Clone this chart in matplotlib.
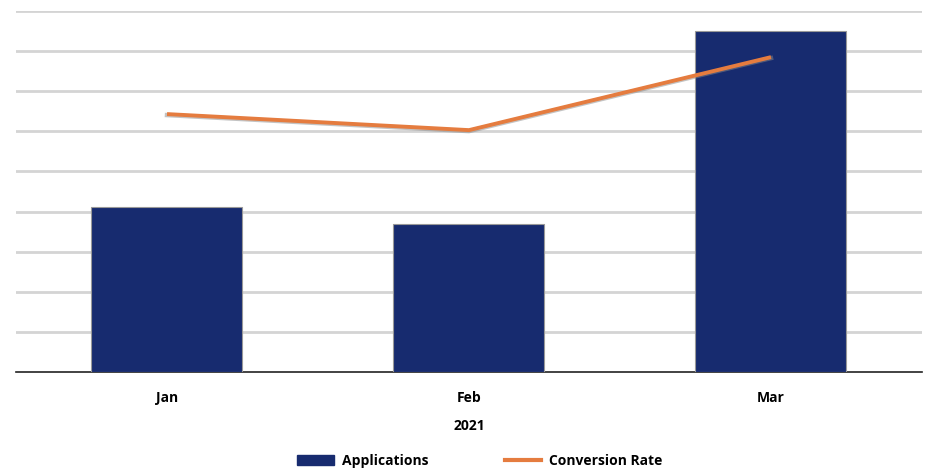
import matplotlib.pyplot as plt
from matplotlib.patches import Patch
from matplotlib.lines import Line2D
from matplotlib.transforms import ScaledTranslation

months = ["Jan", "Feb", "Mar"]
applications = [4.11, 3.69, 8.5]
conversion_rate = [6.43, 6.03, 7.85]
year_label = "2021"

bar_color = "#172b6f"
line_color = "#e57c3f"

plt.rcParams['font.family'] = ['Open Sans', 'DejaVu Sans']

fig = plt.figure(figsize=(9.29, 4.68), dpi=100)
ax = fig.add_axes([16 / 929, (468 - 372) / 468, (922 - 16) / 929, (372 - 11) / 468])

x = list(range(len(months)))
ax.bar(x, applications, width=0.5, color=bar_color, edgecolor="#999999", linewidth=0.8, zorder=3)
# shadow under the line
ax.plot(x, conversion_rate, color="#888888", linewidth=3.2, zorder=4, alpha=0.5,
        transform=ax.transData + ScaledTranslation(0, -1 / 100, fig.dpi_scale_trans))
ax.plot(x, conversion_rate, color=line_color, linewidth=2.8, zorder=5, solid_capstyle="butt")

ax.set_xlim(-0.5, 2.5)
ax.set_ylim(0, 9)
ax.set_yticks(range(1, 10))
ax.yaxis.grid(True, color="#d4d4d4", linewidth=2, zorder=0)
ax.tick_params(axis="y", left=False, labelleft=False)
ax.tick_params(axis="x", bottom=False, pad=15)
ax.set_xticks(x)
ax.set_xticklabels(months, fontsize=10, fontweight="bold", va="center")
for s in ["top", "right", "left"]:
    ax.spines[s].set_visible(False)
ax.spines["bottom"].set_color("#222222")
ax.spines["bottom"].set_linewidth(1.2)

fig.text(469 / 929, 1 - 426 / 468, year_label, ha="center", va="center", fontsize=10, fontweight="bold")

handles = [Patch(facecolor=bar_color, edgecolor=bar_color),
           Line2D([0], [0], color=line_color, linewidth=3)]
leg = fig.legend(handles, ["Applications", "Conversion Rate"], loc="center",
                 bbox_to_anchor=(480 / 929, 1 - 461 / 468), ncol=2, frameon=False,
                 handlelength=2.6, handleheight=0.7, columnspacing=5.5, handletextpad=0.6,
                 prop={"weight": "bold", "size": 10})

fig.savefig("out.png", dpi=100)
